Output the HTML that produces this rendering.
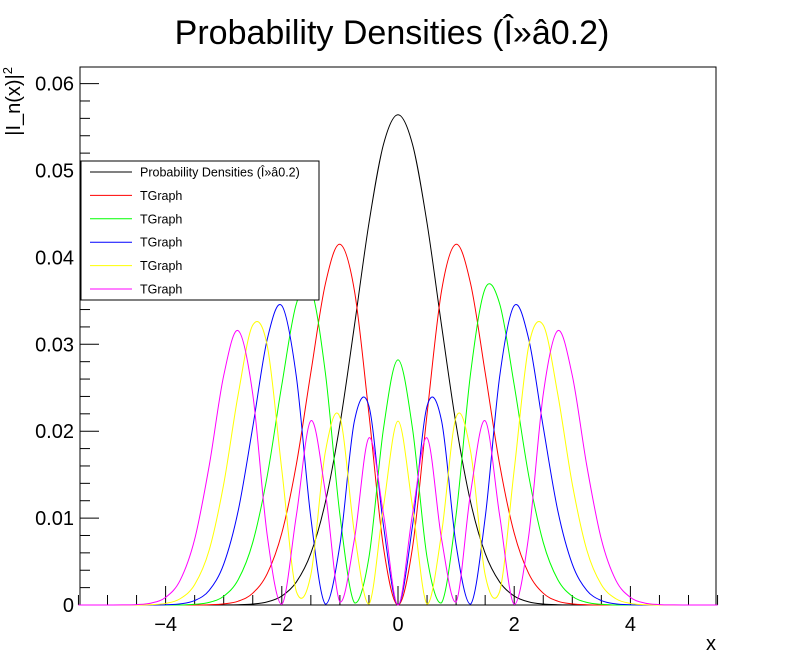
<!DOCTYPE html>
<html><head><meta charset="utf-8"><style>
html,body{margin:0;padding:0;background:#fff;}
svg{display:block;font-family:"Liberation Sans",sans-serif;}
</style></head><body>
<svg id="chart" width="796" height="672" viewBox="0 0 796 672">
<rect x="0" y="0" width="796" height="672" fill="#fff"/>
<text x="392" y="44" font-size="34" text-anchor="middle">Probability Densities (Î»â0.2)</text>
<g id="plot"></g>
</svg>
<script>
const xs = [-5.5,-5.25,-5,-4.75,-4.5,-4.25,-4,-3.75,-3.5,-3.25,-3,-2.75,-2.5,-2.25,-2,-1.75,-1.5,-1.25,-1,-0.75,-0.5,-0.25,0,0.25,0.5,0.75,1,1.25,1.5,1.75,2,2.25,2.5,2.75,3,3.25,3.5,3.75,4,4.25,4.5,4.75,5,5.25,5.5];
const density0 = [0,0,0,0,0,0,0,0,0,0,0.00001,0.00003,0.00011,0.00036,0.00103,0.00264,0.00595,0.01183,0.02076,0.03215,0.04394,0.0530,0.05642,0.0530,0.04394,0.03215,0.02076,0.01183,0.00595,0.00264,0.00103,0.00036,0.00011,0.00003,0.00001,0,0,0,0,0,0,0,0,0,0];
const density1 = [0,0,0,0,0,0,0,0,0,0.00003,0.00013,0.00044,0.00136,0.00362,0.00827,0.01616,0.02676,0.03696,0.04151,0.03617,0.02197,0.00663,0,0.00663,0.02197,0.03617,0.04151,0.03696,0.02676,0.01616,0.00827,0.00362,0.00136,0.00044,0.00013,0.00003,0,0,0,0,0,0,0,0,0];
const density2 = [0,0,0,0,0,0,0,0,0.00008,0.0003,0.00101,0.00292,0.0072,0.01487,0.02532,0.03465,0.03642,0.0267,0.01038,0.00025,0.00549,0.02029,0.02821,0.02029,0.00549,0.00025,0.01038,0.0267,0.03642,0.03465,0.02532,0.01487,0.0072,0.00292,0.00101,0.0003,0.00008,0,0,0,0,0,0,0,0];
const density3 = [0,0,0,0,0,0,0.00003,0.00013,0.00051,0.00168,0.0047,0.01086,0.02047,0.03059,0.03445,0.0263,0.01003,0.0001,0.00692,0.02119,0.02288,0.00913,0,0.00913,0.02288,0.02119,0.00692,0.0001,0.01003,0.0263,0.03445,0.03059,0.02047,0.01086,0.0047,0.00168,0.00051,0.00013,0.00003,0,0,0,0,0,0];
const density4 = [0,0,0,0,0,0.00004,0.00018,0.00072,0.00234,0.00631,0.01391,0.02425,0.0322,0.02982,0.01555,0.00156,0.00348,0.01764,0.02162,0.00827,0.00011,0.01133,0.02116,0.01133,0.00011,0.00827,0.02162,0.01764,0.00348,0.00156,0.01555,0.02982,0.0322,0.02425,0.01391,0.00631,0.00234,0.00072,0.00018,0.00004,0,0,0,0,0];
const density5 = [0,0,0,0.00001,0.00005,0.00022,0.00088,0.00284,0.00756,0.01601,0.0264,0.03157,0.02426,0.00798,0.00007,0.01028,0.0212,0.01295,0.00035,0.00758,0.01923,0.01046,0,0.01046,0.01923,0.00758,0.00035,0.01295,0.0212,0.01028,0.00007,0.00798,0.02426,0.03157,0.0264,0.01601,0.00756,0.00284,0.00088,0.00022,0.00005,0.00001,0,0,0];
const seriesColors = ["#000000","#ff0000","#00ff00","#0000ff","#ffff00","#ff00ff"];
const legendLabels = ["Probability Densities (Î»â0.2)","TGraph","TGraph","TGraph","TGraph","TGraph"];
const xTickValues = [-4,-2,0,2,4];
const xTickLabels = ["\u22124","\u22122","0","2","4"];
const yTickValues = [0,0.01,0.02,0.03,0.04,0.05,0.06];
const yTickLabels = ["0","0.01","0.02","0.03","0.04","0.05","0.06"];

const NS="http://www.w3.org/2000/svg";
const L=80,R=716,T=67,B=605;
const X0=398, XS=58.1, YS=8690;
function sx(v){return X0+v*XS;}
function sy(v){return B-v*YS;}
const g=document.getElementById('plot');
function mk(tag,attrs,parent){const e=document.createElementNS(NS,tag);for(const k in attrs)e.setAttribute(k,attrs[k]);(parent||g).appendChild(e);return e;}

const frame=mk('rect',{x:L,y:T,width:R-L,height:B-T,fill:'none',stroke:'#000','stroke-width':1});



for(let v=-5.5;v<=5.5001;v+=0.5){
  const major=Math.abs(v-Math.round(v/2)*2)<1e-6;
  const t=mk('line',{x1:sx(v),x2:sx(v),y1:B,y2:B-(major?19:10),stroke:'#000'});
  
  
}
xTickValues.forEach((v,i)=>{
  const t=mk('text',{x:sx(v),y:631,'font-size':20,'text-anchor':'middle'});
  t.textContent=xTickLabels[i];
  
  
});
for(let k=0;k<=31;k++){
  const v=k*0.002; if(sy(v)<T)break;
  const major=k%5===0;
  const t=mk('line',{x1:L,x2:L+(major?19:10),y1:sy(v),y2:sy(v),stroke:'#000'});
  
  
}
yTickValues.forEach((v,i)=>{
  const t=mk('text',{x:74,y:sy(v)+7,'font-size':20,'text-anchor':'end'});
  t.textContent=yTickLabels[i];
  
  
});
const xt=mk('text',{x:716,y:650,'font-size':20,'text-anchor':'end'});
xt.textContent='x';


const yt=mk('text',{x:0,y:0,'font-size':20,'text-anchor':'end',transform:'translate(20,67) rotate(-90)'});


yt.innerHTML='|I_n(x)|<tspan font-size="13" dy="-8">2</tspan>';

const series=[density0,density1,density2,density3,density4,density5];
function pathFor(vals){
  const p=xs.map((x,i)=>[sx(x),sy(vals[i])]);
  let d='M'+p[0][0].toFixed(2)+','+p[0][1].toFixed(2);
  for(let i=0;i<p.length-1;i++){
    const p0=p[Math.max(0,i-1)],p1=p[i],p2=p[i+1],p3=p[Math.min(p.length-1,i+2)];
    const c1x=p1[0]+(p2[0]-p0[0])/6, c1y=Math.min(B,p1[1]+(p2[1]-p0[1])/6);
    const c2x=p2[0]-(p3[0]-p1[0])/6, c2y=Math.min(B,p2[1]-(p3[1]-p1[1])/6);
    d+='C'+c1x.toFixed(2)+','+c1y.toFixed(2)+' '+c2x.toFixed(2)+','+c2y.toFixed(2)+' '+p2[0].toFixed(2)+','+p2[1].toFixed(2);
  }
  return d;
}
series.forEach((vals,i)=>{
  const c=mk('path',{d:pathFor(vals),fill:'none',stroke:seriesColors[i],'stroke-width':1});
  
  
});

const lg=mk('g',{});


mk('rect',{x:81,y:161,width:238,height:139,fill:'#fff',stroke:'#000','stroke-width':1},lg);
legendLabels.forEach((lab,i)=>{
  const y=172+i*23.4;
  const e=mk('g',{},lg);
  
  
  mk('line',{x1:90,x2:132,y1:y,y2:y,stroke:seriesColors[i],'stroke-width':1},e);
  const t=mk('text',{x:140,y:y+4.5,'font-size':12.5},e);
  t.textContent=lab;
});
</script>
</body></html>
